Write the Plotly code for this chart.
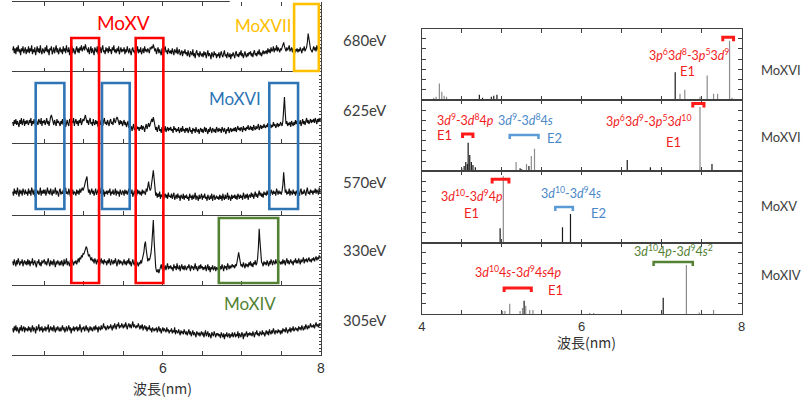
import numpy as np
import plotly.graph_objects as go

W, H = 801, 400

# ---------------- measured spectra (left panel) ----------------
wavelength = np.round(np.arange(4.10, 8.0001, 0.01), 2)

scan_680eV = [
    22, 26, 19, 24, 18, 25, 21, 27, 20, 23, 17, 24, 21, 26, 19, 22, 25, 18, 23, 20,
    26, 19, 24, 21, 27, 18, 23, 20, 25, 17, 22, 26, 20, 24, 19, 27, 21, 18, 24, 22,
    19, 25, 21, 27, 20, 23, 17, 24, 22, 26, 18, 21, 25, 19, 23, 27, 20, 24, 18, 22,
    25, 20, 23, 18, 26, 21, 24, 19, 27, 22, 20, 25, 17, 23, 21, 26, 19, 24, 22, 18,
    23, 26, 20, 24, 19, 25, 22, 27, 21, 24, 26, 22, 28, 24, 23, 20, 25, 18, 22, 26,
    19, 24, 21, 17, 25, 22, 20, 26, 18, 23, 21, 25, 19, 24, 27, 20, 22, 18, 25, 21,
    24, 19, 26, 21, 23, 18, 25, 22, 27, 20, 23, 19, 24, 21, 26, 18, 22, 25, 20, 23,
    21, 25, 18, 23, 20, 26, 22, 19, 24, 21, 17, 23, 25, 20, 22, 18, 24, 21, 26, 19,
    23, 20, 25, 18, 22, 24, 19, 26, 21, 23, 20, 24, 22, 19, 25, 23, 26, 24, 28, 25,
    21, 24, 18, 22, 25, 19, 23, 20, 17, 24, 21, 19, 23, 26, 20, 22, 18, 24, 21, 19,
    22, 18, 24, 20, 17, 23, 21, 19, 25, 18, 21, 23, 17, 20, 22, 16, 21, 19, 23, 18,
    20, 16, 22, 18, 15, 21, 19, 17, 23, 16, 19, 14, 20, 22, 17, 19, 15, 21, 18, 16,
    19, 15, 21, 17, 20, 14, 18, 22, 16, 19, 17, 13, 20, 18, 15, 21, 17, 19, 14, 18,
    16, 20, 14, 18, 21, 17, 15, 19, 22, 16, 18, 14, 20, 17, 15, 19, 13, 18, 16, 20,
    17, 14, 19, 21, 16, 18, 15, 20, 17, 22, 16, 19, 14, 18, 21, 17, 15, 19, 16, 20,
    18, 21, 16, 19, 15, 20, 22, 17, 19, 16, 21, 18, 23, 17, 20, 16, 19, 22, 18, 21,
    19, 22, 18, 24, 20, 23, 19, 25, 21, 22, 26, 20, 24, 22, 27, 21, 25, 23, 20, 24,
    22, 25, 27, 30, 26, 23, 21, 25, 22, 24, 27, 21, 23, 25, 20, 24, 22, 19, 23, 21,
    24, 20, 23, 21, 25, 22, 19, 24, 22, 26, 21, 23, 25, 30, 39, 34, 26, 23, 22, 20,
    23, 26, 22, 25, 21, 27, 24, 22, 26, 23, 25,
]
scan_625eV = [
    21, 17, 23, 19, 24, 18, 22, 20, 16, 23, 19, 25, 18, 21, 24, 17, 22, 19, 23, 20,
    18, 23, 20, 25, 17, 22, 19, 24, 21, 16, 23, 20, 18, 24, 21, 19, 25, 17, 22, 20,
    23, 18, 21, 25, 19, 22, 17, 24, 26, 28, 24, 20, 18, 23, 21, 17, 24, 20, 22, 19,
    17, 22, 19, 24, 18, 21, 25, 16, 20, 23, 19, 17, 24, 21, 18, 22, 20, 25, 17, 21,
    24, 19, 22, 17, 23, 20, 25, 18, 21, 24, 22, 26, 28, 24, 20, 23, 18, 22, 25, 19,
    21, 17, 24, 20, 18, 23, 19, 22, 16, 24, 20, 18, 23, 21, 17, 22, 25, 19, 21, 18,
    23, 20, 17, 22, 24, 19, 21, 18, 25, 22, 20, 24, 26, 24, 21, 18, 23, 19, 22, 17,
    20, 23, 18, 21, 16, 19, 22, 15, 18, 14, 17, 12, 16, 19, 13, 15, 11, 17, 14, 16,
    12, 16, 14, 18, 13, 17, 15, 11, 16, 19, 14, 17, 20, 16, 18, 22, 24, 21, 26, 22,
    17, 13, 16, 11, 15, 18, 12, 14, 10, 16, 13, 15, 12, 17, 11, 14, 16, 12, 15, 13,
    16, 12, 14, 10, 17, 13, 15, 11, 14, 12, 16, 10, 13, 15, 11, 17, 12, 14, 10, 15,
    12, 15, 10, 14, 16, 11, 13, 9, 15, 12, 14, 10, 16, 12, 11, 14, 9, 13, 15, 11,
    14, 10, 13, 16, 11, 15, 12, 9, 14, 11, 16, 12, 10, 15, 13, 11, 14, 10, 16, 12,
    11, 15, 12, 14, 10, 16, 13, 11, 15, 12, 9, 14, 12, 16, 10, 13, 15, 11, 14, 12,
    15, 12, 16, 11, 14, 17, 13, 15, 12, 16, 14, 11, 17, 13, 15, 12, 16, 14, 18, 13,
    14, 17, 13, 16, 12, 18, 15, 13, 17, 14, 16, 19, 13, 15, 18, 14, 17, 15, 19, 16,
    15, 18, 16, 20, 14, 17, 19, 15, 18, 16, 21, 17, 19, 15, 18, 20, 16, 19, 17, 21,
    19, 17, 22, 33, 46, 30, 19, 22, 17, 20, 18, 21, 16, 22, 19, 17, 21, 18, 23, 19,
    22, 18, 21, 19, 23, 17, 20, 24, 19, 22, 18, 21, 25, 20, 23, 19, 22, 24, 20, 23,
    21, 24, 20, 25, 22, 19, 24, 21, 25, 22, 24,
]
scan_570eV = [
    23, 19, 26, 21, 24, 20, 27, 22, 18, 25, 21, 24, 19, 26, 22, 20, 25, 21, 23, 19,
    26, 21, 24, 19, 27, 22, 20, 25, 18, 23, 26, 21, 24, 20, 22, 27, 19, 24, 21, 25,
    21, 25, 19, 23, 27, 21, 24, 20, 26, 22, 19, 25, 21, 23, 27, 20, 24, 22, 18, 24,
    26, 20, 23, 21, 25, 19, 24, 27, 21, 23, 20, 26, 22, 18, 24, 21, 25, 20, 23, 22,
    19, 25, 21, 24, 20, 26, 22, 25, 27, 24, 26, 29, 33, 36, 38, 28, 22, 25, 20, 23,
    26, 21, 24, 19, 23, 26, 20, 22, 25, 19, 24, 21, 27, 22, 20, 25, 18, 23, 21, 24,
    20, 24, 22, 26, 19, 23, 21, 25, 20, 22, 26, 19, 24, 21, 23, 18, 25, 22, 20, 24,
    23, 19, 25, 21, 24, 20, 22, 26, 19, 23, 21, 25, 18, 22, 24, 20, 23, 19, 25, 21,
    24, 20, 23, 19, 25, 21, 24, 22, 20, 26, 23, 28, 33, 27, 24, 26, 32, 40, 44, 36,
    25, 19, 22, 17, 21, 18, 23, 16, 20, 18, 22, 15, 19, 21, 17, 20, 16, 22, 18, 19,
    17, 21, 16, 19, 22, 15, 18, 20, 16, 21, 17, 19, 14, 20, 18, 16, 21, 15, 19, 17,
    20, 16, 18, 14, 21, 17, 19, 15, 20, 16, 18, 22, 15, 19, 17, 14, 20, 16, 18, 21,
    15, 19, 17, 21, 16, 18, 14, 20, 17, 15, 19, 16, 21, 14, 18, 20, 15, 17, 19, 16,
    18, 15, 20, 16, 19, 14, 21, 17, 15, 20, 16, 18, 22, 15, 19, 17, 14, 20, 16, 19,
    17, 20, 16, 19, 15, 21, 18, 16, 20, 17, 19, 15, 22, 18, 16, 20, 17, 21, 15, 19,
    20, 17, 22, 18, 21, 16, 19, 23, 18, 21, 17, 20, 24, 19, 22, 18, 21, 17, 23, 20,
    22, 19, 24, 20, 23, 21, 19, 25, 22, 20, 24, 21, 23, 19, 26, 22, 20, 24, 21, 23,
    20, 24, 30, 42, 32, 22, 25, 20, 23, 21, 26, 19, 24, 22, 20, 25, 21, 23, 19, 24,
    21, 25, 22, 19, 24, 26, 20, 23, 21, 25, 22, 19, 24, 27, 21, 23, 20, 25, 22, 24,
    20, 24, 22, 26, 21, 25, 23, 20, 27, 22, 24,
]
scan_330eV = [
    24, 20, 26, 22, 19, 25, 21, 27, 23, 20, 24, 22, 26, 19, 23, 25, 21, 24, 20, 26,
    21, 25, 19, 24, 22, 27, 20, 23, 25, 21, 18, 24, 22, 26, 20, 23, 19, 25, 22, 24,
    26, 21, 24, 20, 23, 27, 22, 19, 25, 21, 24, 20, 26, 22, 18, 24, 21, 25, 23, 20,
    24, 20, 25, 22, 19, 26, 21, 23, 27, 20, 24, 22, 19, 25, 21, 26, 23, 20, 24, 22,
    25, 21, 24, 27, 23, 28, 26, 30, 28, 32, 31, 34, 36, 39, 37, 33, 29, 31, 27, 25,
    28, 24, 26, 22, 27, 24, 21, 26, 23, 25, 20, 24, 27, 22, 25, 21, 26, 23, 24, 20,
    25, 22, 27, 23, 20, 26, 24, 21, 25, 22, 27, 23, 19, 24, 26, 21, 25, 22, 24, 20,
    23, 26, 21, 24, 20, 25, 22, 27, 21, 24, 19, 23, 26, 22, 20, 25, 21, 24, 22, 19,
    23, 21, 25, 22, 26, 29, 33, 41, 44, 36, 28, 24, 27, 25, 28, 32, 40, 52, 66, 45,
    26, 18, 14, 13, 16, 12, 15, 18, 21, 16, 19, 14, 17, 20, 15, 18, 22, 16, 19, 17,
    20, 16, 18, 14, 21, 17, 19, 15, 22, 17, 16, 20, 14, 18, 21, 16, 19, 15, 20, 17,
    15, 19, 17, 21, 16, 14, 20, 17, 19, 15, 18, 22, 16, 19, 14, 18, 20, 16, 21, 17,
    19, 15, 18, 16, 20, 14, 17, 21, 15, 19, 13, 18, 16, 20, 15, 17, 19, 14, 18, 16,
    17, 20, 15, 19, 16, 21, 18, 14, 20, 17, 19, 15, 22, 18, 16, 20, 17, 19, 21, 18,
    20, 17, 21, 19, 24, 30, 33, 28, 22, 19, 21, 18, 23, 20, 17, 22, 19, 21, 18, 23,
    20, 24, 19, 22, 18, 23, 21, 25, 20, 22, 27, 38, 57, 44, 29, 23, 22, 19, 24, 21,
    23, 20, 25, 22, 19, 24, 21, 26, 22, 20, 25, 23, 21, 26, 22, 24, 20, 25, 23, 21,
    24, 21, 26, 22, 25, 20, 24, 27, 22, 25, 21, 23, 26, 22, 24, 20, 25, 23, 27, 22,
    25, 22, 27, 24, 21, 26, 23, 25, 28, 22, 26, 24, 27, 23, 25, 28, 24, 26, 23, 27,
    25, 28, 24, 27, 29, 25, 28, 26, 30, 27, 29,
]
scan_305eV = [
    27, 23, 29, 25, 30, 24, 28, 26, 22, 28, 25, 30, 24, 27, 29, 23, 28, 25, 27, 24,
    29, 25, 28, 23, 27, 30, 24, 28, 26, 22, 29, 25, 27, 31, 24, 28, 25, 29, 23, 27,
    25, 29, 24, 28, 26, 31, 23, 27, 29, 25, 28, 24, 30, 26, 23, 28, 25, 29, 27, 24,
    28, 24, 27, 30, 25, 28, 23, 27, 29, 24, 26, 30, 25, 28, 22, 27, 25, 29, 24, 28,
    26, 29, 24, 28, 25, 31, 27, 23, 28, 26, 29, 24, 27, 30, 25, 28, 23, 27, 29, 25,
    28, 24, 27, 29, 25, 30, 26, 28, 23, 29, 27, 25, 30, 26, 28, 32, 27, 29, 25, 28,
    30, 26, 29, 27, 31, 28, 25, 30, 27, 32, 28, 26, 31, 29, 33, 27, 30, 28, 32, 29,
    27, 31, 28, 33, 29, 26, 30, 32, 28, 31, 27, 30, 34, 28, 31, 29, 27, 30, 28, 32,
    29, 26, 30, 27, 31, 25, 28, 30, 26, 29, 24, 28, 26, 30, 25, 27, 23, 28, 26, 24,
    27, 25, 28, 23, 26, 29, 24, 27, 22, 26, 28, 24, 27, 25, 23, 28, 24, 26, 22, 25,
    24, 27, 22, 25, 23, 28, 21, 25, 24, 22, 26, 23, 20, 25, 22, 24, 21, 26, 23, 21,
    24, 20, 23, 26, 21, 24, 19, 22, 25, 20, 23, 21, 18, 24, 22, 20, 23, 19, 22, 24,
    20, 23, 18, 22, 25, 19, 21, 24, 18, 22, 20, 17, 23, 21, 19, 24, 20, 18, 22, 20,
    22, 19, 21, 17, 23, 20, 18, 22, 16, 21, 19, 23, 18, 20, 22, 17, 21, 19, 23, 18,
    20, 23, 18, 21, 19, 24, 17, 22, 20, 18, 23, 21, 16, 22, 19, 21, 24, 18, 22, 20,
    23, 20, 22, 19, 24, 21, 18, 23, 21, 25, 20, 22, 19, 24, 22, 20, 25, 21, 23, 19,
    22, 25, 21, 24, 20, 26, 23, 21, 25, 22, 27, 23, 21, 25, 24, 22, 26, 23, 25, 21,
    25, 22, 27, 24, 26, 23, 28, 25, 22, 26, 24, 28, 23, 27, 25, 29, 24, 26, 28, 25,
    27, 24, 29, 26, 28, 25, 30, 27, 25, 29, 26, 31, 28, 26, 30, 27, 29, 32, 28, 30,
    28, 31, 27, 30, 33, 29, 31, 28, 32, 30, 31,
]
scans = [scan_680eV, scan_625eV, scan_570eV, scan_330eV, scan_305eV]
scan_energies = ["680eV", "625eV", "570eV", "330eV", "305eV"]

# wavelength bands highlighted on the measured spectra (nm)
band_mo15 = [(4.842, 5.193), (5.657, 6.007)]
band_mo16 = [(4.391, 4.754), (5.230, 5.581), (7.348, 7.712)]
band_mo17 = [(7.662, 7.975)]
band_mo14 = [(6.709, 7.461)]

# ---------------- calculated line lists (right panel) ----------------
ion_names = ["MoXVI", "MoXVI", "MoXV", "MoXIV"]

mo16a_wl = [4.15, 4.18, 4.22, 4.25, 4.28, 4.31, 4.72, 4.76, 4.87, 4.90, 4.94,
            6.50, 7.17, 7.23, 7.29, 7.48, 7.57, 7.65, 7.70, 7.85, 7.88]
mo16a_int = [0.2, 0.3, 1.6, 0.8, 0.4, 0.3, 0.5, 0.2, 0.3, 0.4, 0.5,
             0.2, 2.7, 0.6, 1.0, 0.3, 2.4, 0.6, 0.6, 5.8, 0.2]
mo16a_tone = "gggggg" + "kkkkk" + "kk" + "gggggggg"

mo16b_wl = [4.50, 4.53, 4.55, 4.57, 4.58, 4.60, 4.62, 4.64, 4.67, 5.18, 5.23,
            5.25, 5.31, 5.34, 5.37, 5.41, 6.57, 6.86, 7.00, 7.48, 7.63]
mo16b_int = [0.3, 0.5, 0.9, 0.7, 2.8, 1.6, 0.9, 0.6, 0.4, 0.9, 0.3,
             0.2, 0.7, 0.5, 1.5, 2.2, 1.1, 0.4, 0.2, 6.3, 0.7]
mo16b_tone = "kkkkkkkkk" + "gkkgkgg" + "kkkgk"

mo15_wl = [4.98, 5.02, 5.76, 5.86]
mo15_int = [1.4, 6.5, 1.5, 2.8]
mo15_tone = "kgkk"

mo14_wl = [5.01, 5.04, 5.10, 5.23, 5.26, 5.28, 5.30, 5.35, 5.39, 6.10, 6.15,
           7.02, 7.31, 7.47, 7.50, 7.65]
mo14_int = [0.3, 0.3, 1.0, 0.3, 0.6, 1.3, 0.8, 0.4, 0.4, 0.1, 0.1,
            1.6, 4.8, 0.15, 0.1, 0.4]
mo14_tone = "gggggkggggg" + "kgggg"

line_lists = [(mo16a_wl, mo16a_int, mo16a_tone), (mo16b_wl, mo16b_int, mo16b_tone),
              (mo15_wl, mo15_int, mo15_tone), (mo14_wl, mo14_int, mo14_tone)]

# ---------------- styling ----------------
RED, BLUE, GREEN, YELLOW = "#FF0000", "#2E75B6", "#548235", "#FFC000"
TXT_RED, TXT_BLUE = "#F21D1D", "#4A88C8"
AX = "#404040"
LAT = "Lato, 'Open Sans', sans-serif"
CJK = "'Noto Sans CJK JP', sans-serif"
TICKF = dict(family="'Liberation Sans', Arial, sans-serif", size=14, color="#333")


def xd(a, b):
    return [a / W, b / W]


def yd(top, bot):
    return [1 - bot / H, 1 - top / H]


def px(x):
    return x / W


def py(y):
    return 1 - y / H


LEFT_X = (8, 320)
LEFT_ROWS = [(2, 72), (72, 143), (143, 215), (215, 285), (285, 355)]
RIGHT_X = (422, 745)
RIGHT_ROWS = [(28.5, 99.9), (99.9, 171.2), (171.2, 242.6), (242.6, 314)]

fig = go.Figure()
layout = {}


def ax_id(i):
    return ("x" if i == 1 else f"x{i}"), ("y" if i == 1 else f"y{i}")


def ax_key(i):
    return ("xaxis" if i == 1 else f"xaxis{i}"), ("yaxis" if i == 1 else f"yaxis{i}")


left_tv = [4.5 + 0.5 * k for k in range(8)]
left_tt = ["6" if v == 6 else "8" if v == 8 else "" for v in left_tv]

for n, (top, bot) in enumerate(LEFT_ROWS):
    i = n + 1
    xid, yid = ax_id(i)
    xk, yk = ax_key(i)
    last = i == len(LEFT_ROWS)
    xa = dict(domain=xd(*LEFT_X), range=[4.09, 8.0], anchor=yid,
              showline=True, linecolor=AX, linewidth=1, mirror=False,
              ticks="inside", ticklen=4, tickcolor=AX, tickvals=left_tv,
              ticktext=left_tt, showticklabels=last, tickfont=TICKF,
              showgrid=False, zeroline=False)
    if i == 1:
        # ticks along the top edge and mirrored above the first separator
        xa.update(side="top", showline=False, mirror="ticks")
    if i == 2:
        xa.update(mirror=True)
    layout[xk] = xa
    layout[yk] = dict(domain=yd(top, bot), range=[0, 71], anchor=xid, side="right",
                      showline=True, linecolor=AX, linewidth=1, ticks="inside",
                      ticklen=2, tickcolor=AX, tick0=0, dtick=3.55,
                      showticklabels=False, showgrid=False, zeroline=False)
    fig.add_trace(go.Scatter(x=wavelength, y=scans[n], xaxis=xid, yaxis=yid,
                             mode="lines", line=dict(color="#111111", width=1.15),
                             hoverinfo="skip"))

right_tv = [4 + 0.5 * k for k in range(9)]
right_tt = [str(int(v)) if v in (4, 6, 8) else "" for v in right_tv]
TICKF_R = dict(TICKF, size=13)

for n, (top, bot) in enumerate(RIGHT_ROWS):
    i = n + 6
    xid, yid = ax_id(i)
    xk, yk = ax_key(i)
    last = n == len(RIGHT_ROWS) - 1
    layout[xk] = dict(domain=xd(*RIGHT_X), range=[4, 8], anchor=yid,
                      showline=True, linecolor=AX, linewidth=1, mirror="ticks",
                      ticks="inside", ticklen=4, tickcolor=AX, tickvals=right_tv,
                      ticktext=right_tt, showticklabels=last, tickfont=TICKF_R,
                      showgrid=False, zeroline=False)
    layout[yk] = dict(domain=yd(top, bot), range=[0, 7], anchor=xid,
                      showline=True, linecolor=AX, linewidth=1, mirror="ticks",
                      ticks="inside", ticklen=4, tickcolor=AX, tick0=0, dtick=1,
                      showticklabels=False, showgrid=False, zeroline=False)
    wl, inten, tone = line_lists[n]
    for shade, col in (("g", "#8C8C8C"), ("k", "#1A1A1A")):
        xs, ys = [], []
        for w, h, t in zip(wl, inten, tone):
            if t == shade:
                xs += [w, w, None]
                ys += [0, h, None]
        fig.add_trace(go.Scatter(x=xs, y=ys, xaxis=xid, yaxis=yid, mode="lines",
                                 line=dict(color=col, width=1.2), hoverinfo="skip"))

shapes = []

# partial frame line along the top of the measured spectra
shapes.append(dict(type="line", xref="x", yref="paper", x0=4.09, x1=6.847,
                   y0=py(1.5), y1=py(1.5), line=dict(color=AX, width=1)))

for bands, col, top, bot in ((band_mo15, RED, 38, 283), (band_mo16, BLUE, 83, 209),
                             (band_mo17, YELLOW, 4, 71), (band_mo14, GREEN, 218, 283)):
    for a, b in bands:
        shapes.append(dict(type="rect", xref="x", yref="paper", x0=a, x1=b,
                           y0=py(bot), y1=py(top), line=dict(color=col, width=2.6),
                           fillcolor="rgba(0,0,0,0)"))

# transition-array brackets: (row, start, end, level, colour, width)
brackets = [
    (6, 7.765, 7.900, 6.15, "#FF1A1A", 3),
    (7, 4.510, 4.640, 3.65, "#FF1A1A", 3),
    (7, 5.100, 5.460, 3.55, "#5B9BD5", 2.5),
    (7, 7.390, 7.530, 6.65, "#FF1A1A", 3),
    (8, 4.880, 5.090, 6.20, "#FF1A1A", 3),
    (8, 5.670, 5.890, 3.50, "#5B9BD5", 2.5),
    (9, 5.030, 5.370, 2.55, "#FF1A1A", 3),
    (9, 6.900, 7.390, 5.10, GREEN, 2.5),
]
for row, a, b, lvl, col, lw in brackets:
    xid, yid = ax_id(row)
    leg = 0.4
    shapes.append(dict(type="path", xref=xid, yref=yid,
                       path=f"M {a},{lvl - leg} L {a},{lvl} L {b},{lvl} L {b},{lvl - leg}",
                       line=dict(color=col, width=lw)))

ann = []


def label(text, x, y, color, size, family=LAT, xanchor="center"):
    ann.append(dict(text=text, x=px(x), y=py(y), xref="paper", yref="paper",
                    showarrow=False, xanchor=xanchor, yanchor="middle",
                    font=dict(family=family, size=size, color=color)))


label("MoXV", 121, 22, RED, 19)
label("MoXVII", 262, 25, YELLOW, 17)
label("MoXVI", 233, 98, BLUE, 17)
label("MoXIV", 248, 303, GREEN, 17)

for txt, y in zip(scan_energies, [40, 110, 182, 250, 320]):
    label(txt, 340, y, "#404040", 15, xanchor="left")

for txt, y in zip(ion_names, [70, 137, 206, 275]):
    label(txt, 763, y, "#404040", 13, xanchor="left")

I, S = "<i>{}</i>", "<sup>{}</sup>"


def cfg(*parts):
    return "".join(parts)


FS = 12.5
label(cfg("3", I.format("p"), S.format("6"), "3", I.format("d"), S.format("8"), "-3",
          I.format("p"), S.format("5"), "3", I.format("d"), S.format("9")), 692, 54, TXT_RED, FS)
label("E1", 690, 71, TXT_RED, 13)
label(cfg("3", I.format("d"), S.format("9"), "-3", I.format("d"), S.format("8"), "4",
          I.format("p")), 466, 119, TXT_RED, FS)
label("E1", 445, 135, TXT_RED, 13)
label(cfg("3", I.format("d"), S.format("9"), "-3", I.format("d"), S.format("8"), "4",
          I.format("s")), 527, 119, TXT_BLUE, FS)
label("E2", 556, 138, TXT_BLUE, 13)
label(cfg("3", I.format("p"), S.format("6"), "3", I.format("d"), S.format("9"), "-3",
          I.format("p"), S.format("5"), "3", I.format("d"), S.format("10")), 652, 120, TXT_RED, FS)
label("E1", 676, 142, TXT_RED, 13)
label(cfg("3", I.format("d"), S.format("10"), "-3", I.format("d"), S.format("9"), "4",
          I.format("p")), 473, 195, TXT_RED, FS)
label("E1", 472, 213, TXT_RED, 13)
label(cfg("3", I.format("d"), S.format("10"), "-3", I.format("d"), S.format("9"), "4",
          I.format("s")), 573, 192, TXT_BLUE, FS)
label("E2", 600, 213, TXT_BLUE, 13)
label(cfg("3", I.format("d"), S.format("10"), "4", I.format("s"), "-3", I.format("d"),
          S.format("9"), "4", I.format("s"), "4", I.format("p")), 519, 271, TXT_RED, FS)
label("E1", 557, 290, TXT_RED, 13)
label(cfg("3", I.format("d"), S.format("10"), "4", I.format("p"), "-3", I.format("d"),
          S.format("9"), "4", I.format("s"), S.format("2")), 676, 251, GREEN, FS)

label("波長(nm)", 160, 388, "#333", 14, family=CJK)
label("波長(nm)", 588, 342, "#333", 14, family=CJK)

fig.update_layout(width=W, height=H, margin=dict(l=0, r=0, t=0, b=0),
                  plot_bgcolor="white", paper_bgcolor="white", showlegend=False,
                  shapes=shapes, annotations=ann, **layout)

fig.write_html("out.html")
